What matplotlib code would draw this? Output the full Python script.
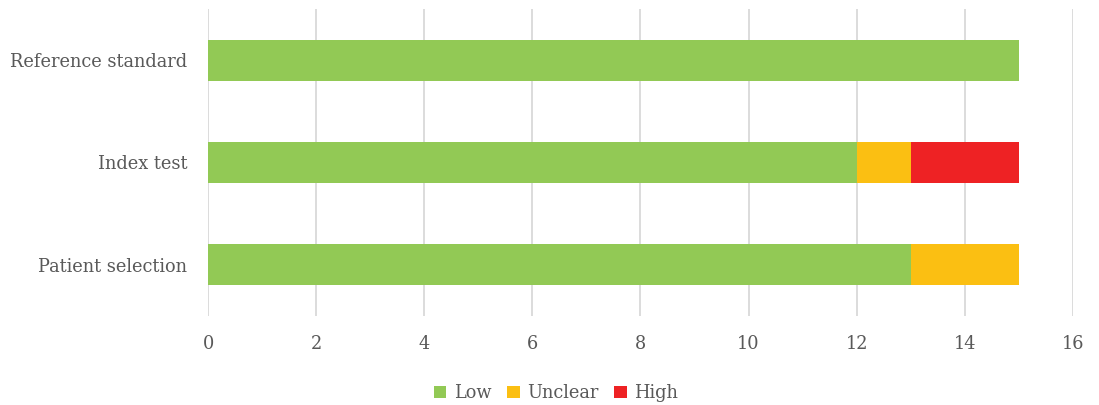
import matplotlib
matplotlib.use('Agg')
import matplotlib.pyplot as plt
import numpy as np

plt.rcParams['font.family'] = 'DejaVu Serif'

domains = ['Patient selection', 'Index test', 'Reference standard']
low = [13, 12, 15]
unclear = [2, 1, 0]
high = [0, 2, 0]

colors = {'Low': '#92C955', 'Unclear': '#FBBF12', 'High': '#EE2224'}
txt = '#595959'

fig = plt.figure(figsize=(10.99, 4.05), dpi=100)
ax = fig.add_axes([0.1893, 0.2198, 0.787, 0.758])

y = np.arange(len(domains))
left = np.zeros(len(domains))
for name, vals in [('Low', low), ('Unclear', unclear), ('High', high)]:
    ax.barh(y, vals, left=left, height=0.4, color=colors[name], label=name, zorder=3)
    left += np.array(vals)

ax.set_xlim(0, 16)
ax.set_ylim(-0.5, 2.5)
ax.set_xticks(range(0, 17, 2))
ax.set_yticks(y)
ax.set_yticklabels(domains)
ax.grid(axis='x', color='#D9D9D9', linewidth=1.3, zorder=0)
for s in ax.spines.values():
    s.set_visible(False)
ax.tick_params(length=0, labelsize=12.8, colors=txt)
ax.tick_params(axis='x', pad=14)
ax.tick_params(axis='y', pad=15)

ax.legend(loc='upper center', bbox_to_anchor=(0.402, -0.17), ncol=3, frameon=False,
          fontsize=12.8, handlelength=0.7, handleheight=0.7, handletextpad=0.4,
          columnspacing=0.9, labelcolor=txt)

fig.savefig('out.png', dpi=100)
